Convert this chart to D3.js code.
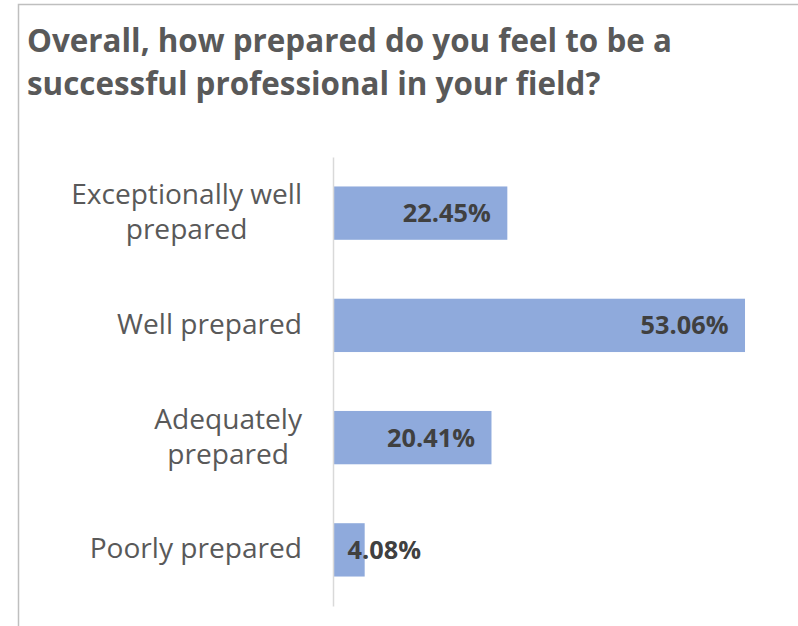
<!DOCTYPE html>
<html>
<head>
<meta charset="utf-8">
<script src="https://cdn.jsdelivr.net/npm/d3@7"></script>
<style>
  html, body { margin: 0; padding: 0; background: #fff; }
  svg { display: block; }
</style>
</head>
<body>
<svg id="chart" width="798" height="626"></svg>
<script>
const titleLines = ["Overall, how prepared do you feel to be a", "successful professional in your field?"];
const categories = [["Exceptionally well", "prepared"], ["Well prepared"], ["Adequately", "prepared"], ["Poorly prepared"]];
const values = [0.2245, 0.5306, 0.2041, 0.0408];
const valueLabels = ["22.45%", "53.06%", "20.41%", "4.08%"];

const FONT = "'Open Sans', 'DejaVu Sans', sans-serif";
const svg = d3.select("#chart");

// chart border (extends beyond viewport on right & bottom)
svg.append("rect")
  .attr("x", 18.5).attr("y", 4.5)
  .attr("width", 900).attr("height", 800)
  .attr("fill", "#fff").attr("stroke", "#bfbfbf").attr("stroke-width", 1.5);

// helper to fit a text's font size to a target width
function fitSize(sel, target, base) {
  sel.attr("font-size", base);
  const len = sel.node().getComputedTextLength();
  const s = base * target / len;
  sel.attr("font-size", s);
  return s;
}

// title
const t1 = svg.append("text").attr("x", 27).attr("y", 52)
  .attr("font-family", FONT).attr("font-weight", 700).attr("fill", "#595959")
  .text(titleLines[0]);
const tSize = fitSize(t1, 645, 30);
svg.append("text").attr("x", 27).attr("y", 95)
  .attr("font-family", FONT).attr("font-weight", 700).attr("fill", "#595959")
  .attr("font-size", tSize)
  .text(titleLines[1]);

// scales
const x = d3.scaleLinear().domain([0, 0.6]).range([333, 333 + 0.6 * 776.5]);
const y = d3.scaleBand().domain(d3.range(categories.length))
  .range([157, 606]).paddingInner(0.525).paddingOuter(0.2625);

// bars
svg.append("g").selectAll("rect").data(values).join("rect")
  .attr("x", x(0))
  .attr("y", (d, i) => y(i))
  .attr("width", d => x(d) - x(0))
  .attr("height", y.bandwidth())
  .attr("fill", "#8faadc");

// axis line via d3 axis (no ticks)
const axisG = svg.append("g").attr("transform", `translate(${x(0)},0)`)
  .call(d3.axisLeft(y).tickSize(0).tickFormat(""));
axisG.select(".domain").attr("stroke", "#d9d9d9").attr("stroke-width", 1.5);

// category labels: measure font size from "Well prepared" ~185px
const probe = svg.append("text").attr("font-family", FONT).text("Well prepared");
const cSize = fitSize(probe, 185, 24);
probe.remove();

const labelRight = 302;
categories.forEach((lines, i) => {
  const cy = y(i) + y.bandwidth() / 2;
  const g = svg.append("g");
  const texts = lines.map((ln, k) => g.append("text")
    .attr("font-family", FONT).attr("font-size", cSize).attr("fill", "#595959")
    .attr("text-anchor", "middle")
    .attr("y", cy + 8.5 + (k - (lines.length - 1) / 2) * 35)
    .text(ln));
  const maxW = d3.max(texts, t => t.node().getComputedTextLength());
  texts.forEach(t => t.attr("x", labelRight - maxW / 2));
});

// value labels
const probe2 = svg.append("text").attr("font-family", FONT).attr("font-weight", 700).text("22.45%");
const vSize = fitSize(probe2, 88, 26);
probe2.remove();

values.forEach((v, i) => {
  const cy = y(i) + y.bandwidth() / 2;
  const t = svg.append("text")
    .attr("font-family", FONT).attr("font-weight", 700).attr("font-size", vSize)
    .attr("fill", "#404040").attr("y", cy + 9)
    .text(valueLabels[i]);
  const w = t.node().getComputedTextLength();
  const endX = Math.max(x(v) - 16.5, x(0) + 14.5 + w);
  t.attr("x", endX).attr("text-anchor", "end");
});
</script>
</body>
</html>
